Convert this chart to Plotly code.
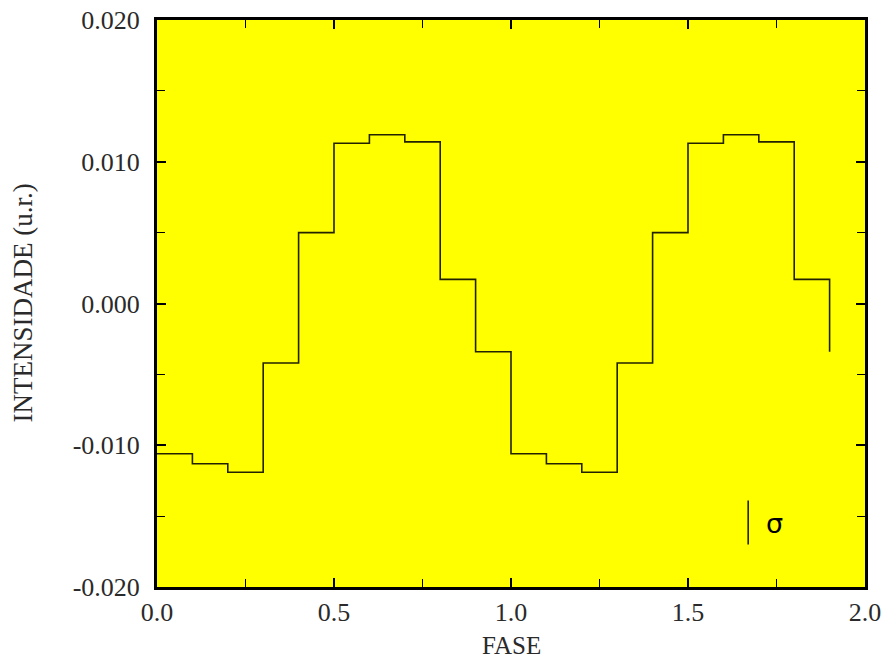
import plotly.graph_objects as go

fase = [0.0, 0.1, 0.2, 0.3, 0.4, 0.5, 0.6, 0.7, 0.8, 0.9,
        1.0, 1.1, 1.2, 1.3, 1.4, 1.5, 1.6, 1.7, 1.8, 1.9]
intensidade = [-0.0106, -0.0113, -0.0119, -0.0042, 0.0050, 0.0113, 0.0119, 0.0114, 0.0017, -0.0034,
               -0.0106, -0.0113, -0.0119, -0.0042, 0.0050, 0.0113, 0.0119, 0.0114, 0.0017, -0.0034]

sigma_x = [1.67, 1.67]
sigma_y = [-0.0139, -0.0170]

y_tickvals = [-0.02, -0.01, 0.0, 0.01, 0.02]
y_ticktext = ["-0.020", "-0.010", "0.000", "0.010", "0.020"]
x_tickvals = [0.0, 0.5, 1.0, 1.5, 2.0]
x_ticktext = ["0.0", "0.5", "1.0", "1.5", "2.0"]

TXT = "#2a2a2a"
SERIF = "Liberation Serif"

fig = go.Figure()
fig.add_trace(go.Scatter(x=fase, y=intensidade, mode="lines", line_shape="hv",
                         line=dict(color="#222200", width=1.6), showlegend=False, hoverinfo="skip"))
fig.add_trace(go.Scatter(x=sigma_x, y=sigma_y, mode="lines",
                         line=dict(color="#222200", width=1.6), showlegend=False, hoverinfo="skip"))
fig.add_annotation(x=1.743, y=-0.0155, text="σ", showarrow=False,
                   font=dict(family="DejaVu Sans", size=27, color="black"))

# axis titles
fig.add_annotation(xref="paper", yref="paper", x=0.5, y=0, yanchor="middle", yshift=-58,
                   text="FASE", showarrow=False, font=dict(family=SERIF, size=25, color=TXT))
fig.add_annotation(xref="paper", yref="paper", x=0, y=0.5, xanchor="center", xshift=-135,
                   textangle=-90, text="INTENSIDADE (u.r.)", showarrow=False,
                   font=dict(family=SERIF, size=27, color=TXT))

axis_common = dict(showgrid=False, zeroline=False, showline=True, linecolor="black", linewidth=3,
                   mirror="allticks", ticks="inside", ticklen=9, tickwidth=1.5, tickcolor="black",
                   automargin=False, ticklabeloverflow="allow",
                   tickfont=dict(family=SERIF, size=26, color=TXT))

fig.update_xaxes(range=[0, 2], tickvals=x_tickvals, ticktext=x_ticktext,
                 minor=dict(ticks="inside", dtick=0.25, ticklen=8, tickcolor="black", tickwidth=1),
                 ticklabelstandoff=0, **axis_common)
fig.update_yaxes(range=[-0.02, 0.02], tickvals=y_tickvals, ticktext=y_ticktext,
                 minor=dict(ticks="inside", dtick=0.005, ticklen=8, tickcolor="black", tickwidth=1),
                 ticklabelstandoff=9, **axis_common)

fig.update_layout(width=886, height=660, margin=dict(l=157, r=21, t=20, b=73),
                  plot_bgcolor="#FFFF00", paper_bgcolor="white")

fig.write_html("out.html", config={"displayModeBar": False},
               post_script="document.body.style.margin='0';")
